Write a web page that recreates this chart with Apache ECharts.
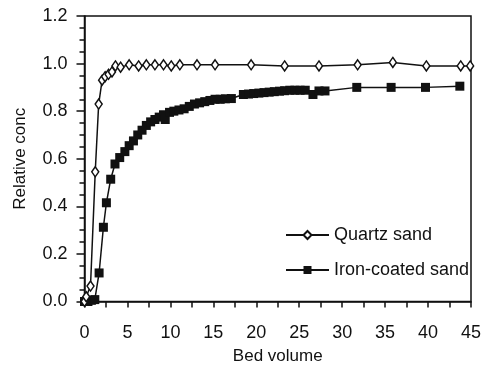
<!DOCTYPE html>
<html>
<head>
<meta charset="utf-8">
<script src="https://cdn.jsdelivr.net/npm/echarts@6/dist/echarts.min.js"></script>
<style>
  html, body { margin: 0; padding: 0; background: #fff; }
  #chart { width: 485px; height: 365px; }
</style>
</head>
<body>
<div id="chart"></div>
<script>
// data
const quartzX = [0, 0.2, 0.7, 1.25, 1.65, 2.05, 2.4, 2.8, 3.2, 3.6, 4.2, 5.2, 6.3, 7.2, 8.2, 9.2, 10.1, 11.1, 13.1, 15.2, 19.4, 23.3, 27.3, 31.8, 35.9, 39.8, 43.8, 44.9];
const quartzY = [0, 0.02, 0.065, 0.545, 0.83, 0.93, 0.945, 0.955, 0.965, 0.99, 0.985, 0.995, 0.99, 0.995, 0.995, 0.995, 0.99, 0.995, 0.995, 0.995, 0.995, 0.99, 0.99, 0.995, 1.005, 0.99, 0.99, 0.99];

const ironX = [0, 0.4, 0.8, 1.2, 1.7, 2.2, 2.55, 3.05, 3.55, 4.1, 4.7, 5.2, 5.7, 6.2, 6.7, 7.2, 7.7, 8.2, 8.7, 9.2, 9.4, 9.9, 10.4, 11.0, 11.6, 12.2, 12.8, 13.4, 14.0, 14.6, 15.2, 15.8, 16.4, 17.1, 18.5, 19.1, 19.7, 20.3, 20.9, 21.5, 22.1, 22.7, 23.3, 23.9, 24.5, 25.1, 25.7, 26.6, 27.3, 28.0, 31.7, 35.7, 39.7, 43.7];
const ironY = [0, 0, 0.005, 0.008, 0.12, 0.312, 0.415, 0.514, 0.578, 0.605, 0.63, 0.655, 0.675, 0.7, 0.72, 0.74, 0.755, 0.765, 0.775, 0.785, 0.765, 0.795, 0.8, 0.805, 0.81, 0.82, 0.83, 0.835, 0.84, 0.845, 0.85, 0.85, 0.852, 0.853, 0.87, 0.872, 0.874, 0.876, 0.878, 0.88, 0.882, 0.884, 0.886, 0.888, 0.888, 0.888, 0.888, 0.87, 0.885, 0.885, 0.9, 0.9, 0.9, 0.905];

const seriesNames = ['Quartz sand', 'Iron-coated sand'];

const pairs = (xs, ys) => xs.map((x, i) => [x, ys[i]]);

const font = 'Liberation Sans, Arial, sans-serif';
const ink = '#111';

let myChart = echarts.init(document.getElementById('chart'));
const option = {
  animation: false,
  grid: {
    left: 84.5, right: 14, top: 16, bottom: 63.5,
    outerBoundsMode: 'none',
    containLabel: false,
    show: true, borderColor: ink, borderWidth: 1.5, backgroundColor: 'transparent'
  },
  legend: {
    data: seriesNames,
    orient: 'vertical',
    left: 285,
    top: 226,
    padding: 0,
    itemWidth: 43,
    itemHeight: 10,
    itemGap: 17,
    textStyle: { fontFamily: font, fontSize: 18, color: ink }
  },
  xAxis: {
    type: 'value',
    min: 0, max: 45, interval: 5,
    name: 'Bed volume',
    nameLocation: 'middle',
    nameGap: 46,
    nameTextStyle: { fontFamily: font, fontSize: 17, color: ink },
    axisLine: { lineStyle: { color: ink, width: 1.5 } },
    axisTick: { show: true, length: 6, lineStyle: { color: ink, width: 1.5 } },
    minorTick: { show: true, splitNumber: 2, length: 6, lineStyle: { color: ink, width: 1.5 } },
    axisLabel: { margin: 23, fontFamily: font, fontSize: 18, color: ink },
    splitLine: { show: false }
  },
  yAxis: {
    type: 'value',
    min: 0, max: 1.2, interval: 0.2,
    name: 'Relative conc',
    nameLocation: 'middle',
    nameGap: 56,
    nameTextStyle: { fontFamily: font, fontSize: 17, color: ink },
    axisLine: { show: true, lineStyle: { color: ink, width: 1.5 } },
    axisTick: { show: true, length: 8, lineStyle: { color: ink, width: 1.5 } },
    minorTick: { show: true, splitNumber: 4, length: 5, lineStyle: { color: ink, width: 1.5 } },
    axisLabel: { margin: 17, fontFamily: font, fontSize: 18, color: ink, formatter: v => v.toFixed(1) },
    splitLine: { show: false }
  },
  series: [
    {
      name: seriesNames[0],
      type: 'line',
      data: pairs(quartzX, quartzY),
      symbol: 'diamond',
      symbolSize: [7, 10],
      showAllSymbol: true,
      lineStyle: { color: ink, width: 1.5 },
      itemStyle: { color: '#fff', borderColor: ink, borderWidth: 1.5 },
      z: 3
    },
    {
      name: seriesNames[1],
      type: 'line',
      data: pairs(ironX, ironY),
      symbol: 'rect',
      symbolSize: 9,
      showAllSymbol: true,
      lineStyle: { color: ink, width: 1.5 },
      itemStyle: { color: ink },
      z: 2
    }
  ]
};
myChart.setOption(option);
</script>
</body>
</html>
